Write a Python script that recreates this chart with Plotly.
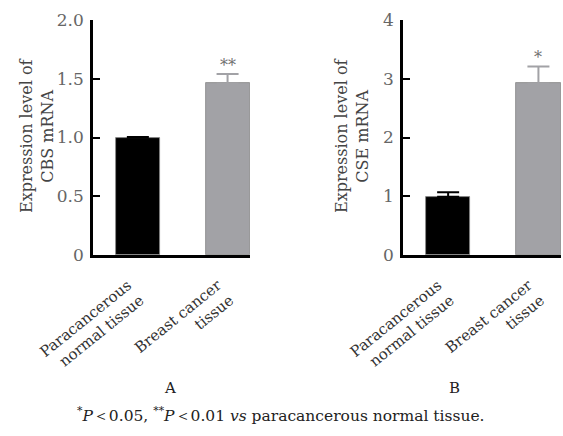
import plotly.graph_objects as go

categories = ["Paracancerous<br>normal tissue", "Breast cancer<br>tissue"]
cbs_values = [1.00, 1.46]
cbs_errors = [0.005, 0.08]
cse_values = [0.99, 2.92]
cse_errors = [0.08, 0.29]
cbs_ticks = [0, 0.5, 1.0, 1.5, 2.0]
cbs_ticktext = ["0", "0.5", "1.0", "1.5", "2.0"]
cse_ticks = [0, 1, 2, 3, 4]
cse_ticktext = ["0", "1", "2", "3", "4"]
stars_a = ["", "**"]
stars_b = ["", "*"]

bar_colors = ["#000000", "#a2a2a6"]
FONT = "DejaVu Serif, serif"
W, H = 563, 436

fig = go.Figure()

def add_panel(values, errors, xa, ya):
    for i, (c, v, e) in enumerate(zip(categories, values, errors)):
        fig.add_trace(go.Bar(
            x=[c], y=[v], width=0.49,
            marker=dict(color=bar_colors[i], line=dict(color="#888888", width=0.8)),
            error_y=dict(type="data", array=[e], arrayminus=[0], symmetric=False,
                         color=bar_colors[i], thickness=2, width=11),
            xaxis=xa, yaxis=ya, showlegend=False, hoverinfo="skip"))

add_panel(cbs_values, cbs_errors, "x", "y")
add_panel(cse_values, cse_errors, "x2", "y2")

ydom = [1 - 255 / H, 1 - 20 / H]
xaxis_common = dict(type="category", range=[-0.5, 1.25], showline=True, linecolor="#000",
                    linewidth=2.5, ticks="", tickangle=-39, showgrid=False, zeroline=False,
                    automargin=False, ticklabelstandoff=13, ticklabelshift=-10,
                    tickfont=dict(family=FONT, size=15, color="#333"))
yaxis_common = dict(showline=True, linecolor="#000", linewidth=2.5, ticks="inside",
                    ticklen=7, tickwidth=2, tickcolor="#000", showgrid=False, zeroline=False,
                    automargin=False,
                    tickfont=dict(family=FONT, size=17, color="#666"), ticklabelstandoff=3)

fig.update_layout(
    width=W, height=H, margin=dict(l=0, r=0, t=0, b=0, autoexpand=False),
    paper_bgcolor="white", plot_bgcolor="white", bargap=0,
    xaxis=dict(domain=[93 / W, 250 / W], anchor="y", **xaxis_common),
    xaxis2=dict(domain=[403 / W, 561 / W], anchor="y2", **xaxis_common),
    yaxis=dict(domain=ydom, anchor="x", range=[0, 2.0], tickvals=cbs_ticks,
               ticktext=cbs_ticktext, **yaxis_common),
    yaxis2=dict(domain=ydom, anchor="x2", range=[0, 4.0], tickvals=cse_ticks,
                ticktext=cse_ticktext, **yaxis_common),
)

ann = []
for i, c in enumerate(categories):
    if stars_a[i]:
        ann.append(dict(x=c, y=cbs_values[i] + cbs_errors[i], xref="x", yref="y",
                        text=stars_a[i], showarrow=False, yanchor="bottom", yshift=-3,
                        font=dict(family=FONT, size=16, color="#707070")))
    if stars_b[i]:
        ann.append(dict(x=c, y=cse_values[i] + cse_errors[i], xref="x2", yref="y2",
                        text=stars_b[i], showarrow=False, yanchor="bottom", yshift=-3,
                        font=dict(family=FONT, size=16, color="#707070")))

def pann(x, y, text, size, color, angle=0):
    return dict(x=x / W, y=1 - y / H, xref="paper", yref="paper", text=text,
                xanchor="center", yanchor="middle", textangle=angle, showarrow=False,
                font=dict(family=FONT, size=size, color=color))

ann += [
    pann(37, 136, "Expression level of<br>CBS mRNA", 16, "#444", -90),
    pann(352, 136, "Expression level of<br>CSE mRNA", 16, "#444", -90),
    pann(170, 388, "A", 15, "#222"),
    pann(455, 388, "B", 15, "#222"),
    pann(281, 414, "<sup>*</sup><i>P</i>＜0.05, <sup>**</sup><i>P</i>＜0.01 <i>vs</i> paracancerous normal tissue.",
         15.5, "#222"),
]
fig.update_layout(annotations=ann)

fig.write_html("out.html")
